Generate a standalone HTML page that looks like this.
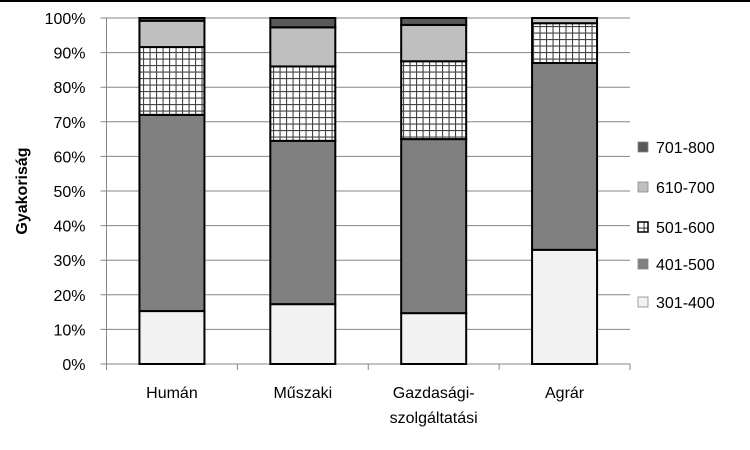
<!DOCTYPE html>
<html><head><meta charset="utf-8"><style>
body{margin:0;background:#fff;}
svg{display:block;font-family:"Liberation Sans",sans-serif;}
</style></head><body>
<svg id="chart" width="750" height="450" viewBox="0 0 750 450">
<defs>
<pattern id="grid" width="6.5" height="6.5" patternUnits="userSpaceOnUse">
<rect width="6.5" height="6.5" fill="#fff"/>
<path d="M0 0.5H6.5M0.5 0V6.5" stroke="#444" stroke-width="1.2"/>
</pattern>
</defs>
<line x1="0" y1="1" x2="750" y2="1" stroke="#000" stroke-width="2"/>
<g id="gridlines"></g>
<g id="bars"></g>
<g id="axes"></g>
<text x="27" y="191" transform="rotate(-90 27 191)" text-anchor="middle" font-size="16" font-weight="bold">Gyakoriság</text>
<g id="legend"></g>
</svg>
<script>
const categories=["Humán","Műszaki","Gazdasági-|szolgáltatási","Agrár"];
const seriesNames=["301-400","401-500","501-600","610-700","701-800"];
const s301=[15.3,17.3,14.7,33];
const s401=[56.7,47.2,50.3,54];
const s501=[19.6,21.5,22.5,11.5];
const s610=[7.6,11.3,10.5,1.5];
const s701=[0.8,2.7,2,0];
const yTicks=[0,10,20,30,40,50,60,70,80,90,100];
const series=[s301,s401,s501,s610,s701];
const fills=["#f2f2f2","#808080","url(#grid)","#bfbfbf","#595959"];
const NS="http://www.w3.org/2000/svg";
const X0=106.5,X1=630,Y0=364,Y1=18;
const cw=(X1-X0)/categories.length;
const y=v=>Y0-(v/100)*(Y0-Y1);
const xc=i=>X0+cw*(i+0.5);
function mk(tag,attrs,parent){const e=document.createElementNS(NS,tag);for(const k in attrs)e.setAttribute(k,attrs[k]);parent.appendChild(e);return e;}
const G=document.getElementById("gridlines"),B=document.getElementById("bars"),A=document.getElementById("axes"),L=document.getElementById("legend");
yTicks.forEach(t=>{
 const l=mk("line",{x1:X0-6,x2:X1,y1:y(t),y2:y(t),stroke:"#868686","stroke-width":1},G);
 
 
 const tx=mk("text",{x:X0-21,y:y(t)+6,"text-anchor":"end","font-size":"16"},A);
 tx.textContent=t+"%";
 
 
});
const ya=mk("line",{x1:X0,x2:X0,y1:Y1,y2:Y0,stroke:"#868686"},A);


for(let i=0;i<=categories.length;i++){
 const t=mk("line",{x1:X0+cw*i,x2:X0+cw*i,y1:Y0,y2:Y0+6,stroke:"#868686"},A);
 
 
}
const bw=65;
categories.forEach((c,i)=>{
 let cum=0;
 series.forEach((s,j)=>{
  const v=s[i];
  if(v>0){
   const r=mk("rect",{x:xc(i)-bw/2,y:y(cum+v),width:bw,height:y(cum)-y(cum+v),fill:fills[j],stroke:"#000","stroke-width":2},B);
   
   
  }
  cum+=v;
 });
 const parts=c.split("|");
 parts.forEach((p,k)=>{
  const t=mk("text",{x:xc(i),y:398+k*25,"text-anchor":"middle","font-size":"16"},A);
  t.textContent=p;
  
  
 });
});
const ly=[302,264,227,187,147];
seriesNames.forEach((n,j)=>{
 const g=mk("g",{},L);
 
 
 mk("rect",{x:638,y:ly[j]-5,width:10,height:10,fill:fills[j],stroke:j==2?"#000":"#888","stroke-width":j==2?1.5:0.8},g);
 const t=mk("text",{x:656,y:ly[j]+6,"font-size":"16"},g);
 t.textContent=n;
});
</script>
</body></html>
